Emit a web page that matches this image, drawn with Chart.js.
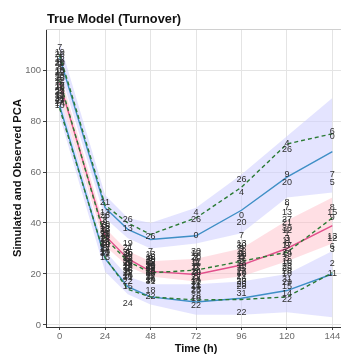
<!DOCTYPE html>
<html>
<head>
<meta charset="utf-8">
<script src="https://cdn.jsdelivr.net/npm/chart.js@4"></script>
<style>
  html, body { margin: 0; padding: 0; background: #fff; overflow: hidden; }
  #wrap { width: 346px; height: 356px; }
</style>
</head>
<body>
<div id="wrap"><canvas id="c" width="346" height="356"></canvas></div>
<script>
// time points (h)
const times = [0, 24, 36, 48, 72, 96, 120, 144];

// simulated percentiles (lines)
const simUpper = [105, 46, 37.5, 33.5, 35, 45, 58, 68];
const simMedian = [95, 35, 26, 21, 19.8, 23.5, 30, 39];
const simLower = [86, 26, 15, 11, 9, 10.5, 13.5, 20];

// observed percentiles (dashed)
const obsUpper = [106, 47, 40, 35.5, 42, 54, 71, 75];
const obsMedian = [96, 34, 25, 20.5, 21.5, 25, 28.5, 42];
const obsLower = [85, 26.5, 14, 11, 9.8, 10, 11, 20.5];

// confidence bands around the simulated percentiles
const upperBandHi = [111, 51, 42, 40, 46, 59, 74, 89];
const upperBandLo = [100, 42, 34, 30, 32, 36, 50, 52];
const medBandHi = [99, 38, 29, 25, 26, 30, 41, 50];
const medBandLo = [90, 31, 23, 19, 17, 19, 25, 32];
const lowerBandHi = [90, 29, 19, 16, 16, 17, 20, 29];
const lowerBandLo = [82, 21, 12, 8, 4, 4, 5, 3];

// observed values with subject labels
const obsTime = [
  0,0,0,0,0,0,0,0,0,0,0,0,0,0,0,0,0,0,0,0,0,0,0,0,0,0,0,0,0,0,0,
  24,24,24,24,24,24,24,24,24,24,24,24,24,24,24,24,24,24,24,24,24,24,24,24,24,24,24,24,24,24,24,
  36,36,36,36,36,36,36,36,36,36,36,36,36,36,36,36,36,36,36,36,36,36,36,36,36,36,36,36,36,36,36,
  48,48,48,48,48,48,48,48,48,48,48,48,48,48,48,48,48,48,48,48,48,48,48,48,48,48,48,48,48,48,
  72,72,72,72,72,72,72,72,72,72,72,72,72,72,72,72,72,72,72,72,72,72,72,72,72,72,72,72,72,
  96,96,96,96,96,96,96,96,96,96,96,96,96,96,96,96,96,96,96,96,96,96,96,96,96,96,96,96,96,96,
  120,120,120,120,120,120,120,120,120,120,120,120,120,120,120,120,120,120,120,120,120,120,120,120,120,120,120,120,120,120,120,
  144,144,144,144,144,144,144,144,144,144,144,144,144
];
const obsValue = [
  109,107,106,105,104,103,102,101,100,99,98,97,96,95,94,93,92,91,90,89.5,89,88,87.5,87,86,88.5,93.5,96.5,99.5,102.5,91.5,
  48,44,43,42,41,40,39.5,39,38,37,36.5,36,35,34,33.5,33,32,31.5,31,30,29.5,29,28.5,28,30.5,34.5,37.5,38.5,32.5,35.5,26.5,
  41.5,38,32,30,29,28,27.5,27,26,25.5,25,24.5,24,23,22.5,22,21,20.5,20,19.5,19,18.5,23.5,26.5,21.5,28.5,24.2,30.5,17,15,8.5,
  34.5,29,27.5,27,26,25.5,25,24.5,24,23.5,23,22.5,22,21.5,21,20.5,20,19.5,19,18.5,18,17.5,17,23.2,26.5,20.8,22.8,24.8,13.5,11,
  44,41.5,35,29,28,27,26.5,26,25,24.5,24,23,22.5,22,21,20.5,20,19,18.5,18,17,16.5,15.5,15,14,13.5,11,10.5,7.5,
  57,52,43,40,35,32,31,30,29.5,29,28,27,26.5,26,25,24,23.5,23,22,21,20.5,20,12.5,19,18,17,16,15,27.5,5,
  71,69,59,56,48,46,44,41.5,40,38,37,36,34,33,32,31,30,28.5,27.5,26,25,24,23,22,21,20,18,16.5,15,12.5,10,
  76,74,59,56,46,44,42,34.5,34,30.6,29.4,24,20
];
const obsId = [
  '7','19','26','3','12','20','9','4','15','22','1','30','11','6','17','28','2','24','13','8','21','5','27','14','10','31','18','23','16','25','29',
  '21','13','26','4','7','9','20','3','12','1','30','11','6','17','28','2','24','19','8','5','27','14','10','31','22','18','23','16','25','29','15',
  '26','13','19','7','4','9','20','3','12','1','30','11','6','17','28','2','8','5','27','14','10','31','18','23','16','25','29','21','22','15','24',
  '26','7','13','4','9','20','3','12','1','30','11','6','17','28','2','24','19','8','5','27','14','10','31','21','16','23','25','29','18','22',
  '4','26','0','30','13','7','20','3','12','1','11','6','17','2','24','19','8','5','27','14','10','31','21','16','23','25','28','18','22',
  '26','4','0','20','7','13','30','9','3','12','1','11','6','17','2','24','19','8','5','27','14','10','31','21','16','23','25','28','18','22',
  '4','26','9','20','8','7','13','27','21','30','12','1','3','11','6','17','2','24','19','5','10','16','23','25','28','18','31','29','15','14','22',
  '6','0','7','5','8','15','9','13','12','6','3','2','11'
];

const xTicks = [0, 24, 48, 72, 96, 120, 144];
const yTicks = [0, 20, 40, 60, 80, 100];

const pts = arr => times.map((t, i) => ({ x: t, y: arr[i] }));

const BLUE = '#3f8fc6';
const PINK = '#e2508c';
const GREEN = '#2a7a33';
const LAV = 'rgba(205,205,255,0.55)';
const ROSE = 'rgba(255,185,196,0.45)';

const band = (data, fillTo, color) => ({
  data, fill: fillTo === null ? false : { target: fillTo },
  backgroundColor: color, borderWidth: 0, pointRadius: 0, tension: 0, order: 5
});
const line = (data, color, dashed) => ({
  data, fill: false, borderColor: color, borderWidth: 1.4,
  borderDash: dashed ? [4, 3] : [], pointRadius: 0, tension: 0, order: dashed ? 2 : 3
});

// observed subject labels + title + top border
const labelPlugin = {
  id: 'labels',
  afterDatasetsDraw(chart) {
    const { ctx, scales: { x, y }, chartArea } = chart;
    ctx.save();
    ctx.beginPath();
    ctx.rect(chartArea.left, chartArea.top, chartArea.right - chartArea.left, chartArea.bottom - chartArea.top);
    ctx.clip();
    ctx.font = "9px 'Liberation Sans', Arial, sans-serif";
    ctx.fillStyle = '#2e2e2e';
    ctx.textAlign = 'center';
    ctx.textBaseline = 'middle';
    obsTime.forEach((t, i) => {
      ctx.fillText(obsId[i], x.getPixelForValue(t), y.getPixelForValue(obsValue[i]));
    });
    ctx.restore();
  },
  afterDraw(chart) {
    const { ctx, chartArea } = chart;
    ctx.save();
    ctx.strokeStyle = '#d0d0d0';
    ctx.lineWidth = 1;
    ctx.beginPath();
    ctx.moveTo(chartArea.left, chartArea.top + 0.5);
    ctx.lineTo(chartArea.right, chartArea.top + 0.5);
    ctx.stroke();
    ctx.font = "bold 12.8px 'Liberation Sans', Arial, sans-serif";
    ctx.fillStyle = '#111';
    ctx.textAlign = 'left';
    ctx.textBaseline = 'alphabetic';
    ctx.fillText('True Model (Turnover)', 47, 23);
    ctx.restore();
  }
};

new Chart(document.getElementById('c'), {
  type: 'line',
  data: {
    datasets: [
      line(pts(obsUpper), GREEN, true),
      line(pts(obsMedian), GREEN, true),
      line(pts(obsLower), GREEN, true),
      line(pts(simUpper), BLUE, false),
      line(pts(simMedian), PINK, false),
      line(pts(simLower), BLUE, false),
      band(pts(upperBandHi), 7, LAV),
      band(pts(upperBandLo), null, LAV),
      band(pts(medBandHi), 9, ROSE),
      band(pts(medBandLo), null, ROSE),
      band(pts(lowerBandHi), 11, LAV),
      band(pts(lowerBandLo), null, LAV)
    ]
  },
  options: {
    responsive: false,
    animation: false,
    layout: { padding: { top: 29, left: 0, right: 0, bottom: 0 } },
    plugins: { legend: { display: false }, tooltip: { enabled: false }, title: { display: false } },
    scales: {
      x: {
        type: 'linear', min: -7.2, max: 151.2,
        afterBuildTicks: s => { s.ticks = xTicks.map(v => ({ value: v })); },
        afterFit: s => { s.height = 29; },
        ticks: { color: '#6b6b6b', font: { size: 9.5, family: "'Liberation Sans', Arial" }, padding: 1, maxRotation: 0 },
        grid: { color: '#e4e4e4', lineWidth: 1, tickColor: '#444', tickLength: 3 },
        border: { display: true, color: '#333', width: 1 },
        title: { display: true, text: 'Time (h)', color: '#111', padding: { top: 0, bottom: 0 },
          font: { size: 11, weight: 'bold', family: "'Liberation Sans', Arial" } }
      },
      y: {
        type: 'linear', min: -0.8, max: 116.1,
        afterBuildTicks: s => { s.ticks = yTicks.map(v => ({ value: v })); },
        afterFit: s => { s.width = 46; },
        ticks: { color: '#6b6b6b', font: { size: 9.5, family: "'Liberation Sans', Arial" }, padding: 2 },
        grid: { color: '#e4e4e4', lineWidth: 1, tickColor: '#444', tickLength: 3 },
        border: { display: true, color: '#333', width: 1 },
        title: { display: true, text: 'Simulated and Observed PCA', color: '#111', padding: { top: 11, bottom: 0 },
          font: { size: 11.2, weight: 'bold', family: "'Liberation Sans', Arial" } }
      }
    }
  },
  plugins: [labelPlugin]
});
</script>
</body>
</html>
